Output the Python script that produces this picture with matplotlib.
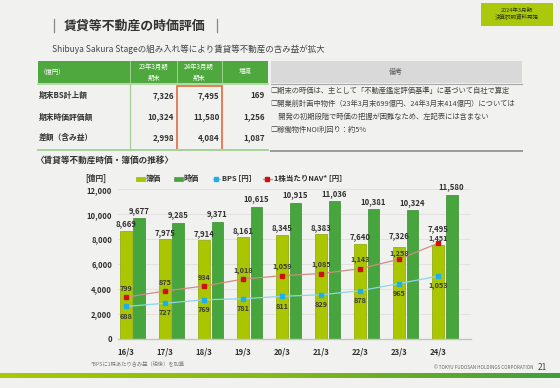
import numpy as np
import matplotlib
matplotlib.use('Agg')
import matplotlib.pyplot as plt
from matplotlib.patches import Rectangle
from matplotlib.lines import Line2D
from matplotlib.colors import LinearSegmentedColormap

plt.rcParams['font.family'] = ['Noto Sans CJK JP', 'DejaVu Sans']

# ---------------- data ----------------
categories = ['16/3', '17/3', '18/3', '19/3', '20/3', '21/3', '22/3', '23/3', '24/3']
book_value = [8669, 7975, 7914, 8161, 8345, 8383, 7640, 7326, 7495]
market_value = [9677, 9285, 9371, 10615, 10915, 11036, 10381, 10324, 11580]
bps = [688, 727, 769, 781, 811, 829, 878, 965, 1053]
nav = [799, 875, 934, 1018, 1059, 1085, 1143, 1258, 1451]
y_ticks = [0, 2000, 4000, 6000, 8000, 10000, 12000]

table_headers = ['（億円）', '23年3月期\n期末', '24年3月期\n期末', '増減']
table_rows = ['期末BS計上額', '期末時価評価額', '差額（含み益）']
table_2023 = [7326, 10324, 2998]
table_2024 = [7495, 11580, 4084]
table_diff = [169, 1256, 1087]
remarks = [
    '□期末の時価は、主として「不動産鑑定評価基準」に基づいて自社で算定',
    '□開業前計画中物件（23年3月末699億円、24年3月末414億円）については',
    '\u3000開発の初期段階で時価の把握が困難なため、左記表には含まない',
    '□稼働物件NOI利回り：約5%',
]

# ---------------- style ----------------
BG = '#f1f1ef'
C_BOOK = '#a9c600'
C_BOOK_E = '#8da400'
C_MKT = '#47a53d'
C_MKT_E = '#3a8c31'
C_NAV_L = '#cf8c85'
C_NAV_M = '#cc1111'
C_BPS_L = '#8fd4ea'
C_BPS_M = '#1eaee8'
TXT = '#333333'

W, H = 560, 388
fig = plt.figure(figsize=(W / 100, H / 100), dpi=100, facecolor=BG)

ov = fig.add_axes([0, 0, 1, 1])
ov.set_xlim(0, W)
ov.set_ylim(H, 0)
ov.axis('off')

# ---- title ----
ov.plot([53.6, 53.6], [19, 32], color='#888888', lw=0.9)
ov.plot([217, 217], [19, 32], color='#888888', lw=0.9)
ov.text(64, 25.8, '賃貸等不動産の時価評価', fontsize=9.3, fontweight='bold', color=TXT,
        va='center', ha='left')
ov.text(52.5, 48.8, 'Shibuya Sakura Stageの組み入れ等により賃貸等不動産の含み益が拡大',
        fontsize=6.1, color='#444444', va='center', ha='left')

# ---- badge ----
ov.add_patch(Rectangle((481, 3.3), 72, 22.7, facecolor='#abc80c', edgecolor='none'))
ov.text(517, 10, '2024年3月期', fontsize=4.0, color='#2f3a10', ha='center', va='center')
ov.text(517, 17.5, '決算説明資料再掲', fontsize=4.0, color='#2f3a10', ha='center', va='center')

# ---- table ----
ov.add_patch(Rectangle((37.5, 61), 230.5, 21.5, facecolor='#4fa83d', edgecolor='none'))
for xd in [130, 176.5, 221.5]:
    ov.plot([xd, xd], [61, 82.5], color='#9fd08f', lw=0.7)
ov.text(40, 71.5, table_headers[0], fontsize=4.6, color='white', ha='left', va='center')
for xc, lab in zip([154, 199, 245], table_headers[1:]):
    lines = lab.split('\n')
    if len(lines) == 2:
        ov.text(xc, 67.3, lines[0], fontsize=4.6, color='white', ha='center', va='center')
        ov.text(xc, 77.7, lines[1], fontsize=4.6, color='white', ha='center', va='center')
    else:
        ov.text(xc, 71.5, lab, fontsize=4.6, color='white', ha='center', va='center')

ov.plot([37.5, 268], [84.3, 84.3], color='#a8d39a', lw=1.2)
ov.plot([37.5, 268], [150.3, 150.3], color='#a8d39a', lw=1.4)
ov.plot([130, 130], [84.3, 150.3], color='#a8d39a', lw=1.0)

row_y = [95.7, 117, 137.8]
for yy, lab, a, b, d in zip(row_y, table_rows, table_2023, table_2024, table_diff):
    ov.text(38.7, yy, lab, fontsize=5.6, fontweight='bold', color=TXT, ha='left', va='center')
    ov.text(174, yy, f'{a:,}', fontsize=5.8, fontweight='bold', color=TXT, ha='right', va='center')
    ov.text(219.7, yy, f'{b:,}', fontsize=5.8, fontweight='bold', color=TXT, ha='right', va='center')
    ov.text(265, yy, f'{d:,}', fontsize=5.8, fontweight='bold', color=TXT, ha='right', va='center')

ov.add_patch(Rectangle((176.5, 85.7), 45, 64, facecolor='none', edgecolor='#e0602a', lw=1.1))

# remarks
ov.add_patch(Rectangle((270.5, 61), 251.5, 21.5, facecolor='#d9d9d9', edgecolor='none'))
ov.plot([270.5, 522], [83.5, 83.5], color='#a8a8a8', lw=0.8)
ov.text(396, 71.5, '備考', fontsize=5.0, color='#555555', ha='center', va='center')
for yy, txt in zip([91, 104.2, 117.3, 130], remarks):
    ov.text(270.7, yy, txt, fontsize=5.25, color='#444444', ha='left', va='center')
ov.plot([270.5, 522], [150.5, 150.5], color='#9a9a9a', lw=1.4)

# ---- chart section title ----
ov.text(35, 160, '〈賃貸等不動産時価・簿価の推移〉', fontsize=6.2, fontweight='bold',
        color=TXT, ha='left', va='center')
ov.text(85, 178.3, '[億円]', fontsize=5.5, fontweight='bold', color=TXT, ha='left', va='center')

# legend
ov.add_patch(Rectangle((136, 176.5), 8.5, 4.5, facecolor=C_BOOK, edgecolor=C_BOOK_E, lw=0.4))
ov.text(145.5, 178.3, '簿価', fontsize=5.5, fontweight='bold', color=TXT, ha='left', va='center')
ov.add_patch(Rectangle((174, 176.5), 9, 4.5, facecolor=C_MKT, edgecolor=C_MKT_E, lw=0.4))
ov.text(184, 178.3, '時価', fontsize=5.5, fontweight='bold', color=TXT, ha='left', va='center')
ov.add_line(Line2D([212.7, 220], [178.6, 178.6], color=C_BPS_L, lw=0.9))
ov.add_line(Line2D([216.4], [178.6], marker='s', markersize=2.6, color=C_BPS_M, lw=0))
ov.text(221.7, 178.3, 'BPS [円]', fontsize=5.4, fontweight='bold', color=TXT, ha='left', va='center')
ov.add_line(Line2D([262.7, 271.7], [178.6, 178.6], color=C_NAV_L, lw=0.9))
ov.add_line(Line2D([267.2], [178.6], marker='s', markersize=2.6, color=C_NAV_M, lw=0))
ov.text(274, 178.3, '1株当たりNAV* [円]', fontsize=5.4, fontweight='bold', color=TXT,
        ha='left', va='center')

# ---- footnotes ----
ov.text(90.7, 364, '*BPSに1株あたり含み益（税後）を加算', fontsize=3.8, color='#777777',
        ha='left', va='center')
ov.text(533, 367.3, '© TOKYU FUDOSAN HOLDINGS CORPORATION', fontsize=3.3, color='#666666',
        ha='right', va='center')
ov.text(538, 367.3, '21', fontsize=6.0, color='#444444', ha='left', va='center')

# gradient bar
gax = fig.add_axes([0, (H - 378.3) / H, 1, 5 / H])
cmap = LinearSegmentedColormap.from_list('g', ['#a9c800', '#84b81a', '#3f9e3c'])
gax.imshow(np.linspace(0, 1, 256)[None, :], aspect='auto', cmap=cmap)
gax.axis('off')

# ---------------- chart ----------------
left, right, bottom, top = 118, 471, 338.7, 189.3
ax = fig.add_axes([left / W, (H - bottom) / H, (right - left) / W, (bottom - top) / H])
ax.patch.set_alpha(0)
x = np.arange(len(categories))
off = 0.345
bw = 0.3
ax.bar(x, book_value, width=bw, color=C_BOOK, edgecolor=C_BOOK_E, lw=0.5, zorder=2)
ax.bar(x + off, market_value, width=bw, color=C_MKT, edgecolor=C_MKT_E, lw=0.5, zorder=2)
ax.set_xlim(-0.2, 8.84)
ax.set_ylim(0, 12000)
ax.set_yticks(y_ticks)
ax.set_yticklabels([f'{v:,}' for v in y_ticks], fontsize=5.5, fontweight='bold', color=TXT)
ax.set_xticks(x)
ax.set_xticklabels(categories, fontsize=5.6, fontweight='bold', color=TXT)
ax.tick_params(axis='y', length=0, pad=4.3)
ax.tick_params(axis='x', length=0, pad=6.0)
ax.grid(axis='y', color='#dedede', lw=0.6)
ax.set_axisbelow(True)
for s in ['left', 'right', 'top']:
    ax.spines[s].set_visible(False)
ax.spines['bottom'].set_color('#c4c4c4')
ax.spines['bottom'].set_linewidth(1.0)

# label offsets (points) - the last groups are lifted to clear the NAV labels
book_off = [5, 5, 5, 5, 5, 5, 5, 8.3, 12.3]
nav_off = [6.3, 6.3, 6.3, 6.3, 6.3, 6.3, 6.3, 4.3, 3.6]

for xi, v, o in zip(x, book_value, book_off):
    ax.annotate(f'{v:,}', (xi, v), xytext=(0, o), textcoords='offset points',
                ha='center', va='center', fontsize=5.6, fontweight='bold', color=TXT,
                annotation_clip=False)
for xi, v in zip(x + off, market_value):
    ax.annotate(f'{v:,}', (xi, v), xytext=(0, 5.8), textcoords='offset points',
                ha='center', va='center', fontsize=5.6, fontweight='bold', color=TXT,
                annotation_clip=False)

ax2 = ax.twinx()
ax2.set_ylim(300, 2100)
ax2.axis('off')
ax2.plot(x, nav, color=C_NAV_L, lw=0.9, marker='s', markersize=2.8,
         markerfacecolor=C_NAV_M, markeredgecolor=C_NAV_M, zorder=3)
ax2.plot(x, bps, color=C_BPS_L, lw=0.9, marker='s', markersize=2.8,
         markerfacecolor=C_BPS_M, markeredgecolor=C_BPS_M, zorder=3)
for xi, v, o in zip(x, nav, nav_off):
    ax2.annotate(f'{v:,}', (xi, v), xytext=(0, o), textcoords='offset points',
                 ha='center', va='center', fontsize=5.2, fontweight='bold', color='#3a3a3a')
for xi, v in zip(x, bps):
    ax2.annotate(f'{v:,}', (xi, v), xytext=(0, -7), textcoords='offset points',
                 ha='center', va='center', fontsize=5.2, fontweight='bold', color='#3a3a3a')

fig.savefig('out.png', dpi=100, facecolor=BG)
